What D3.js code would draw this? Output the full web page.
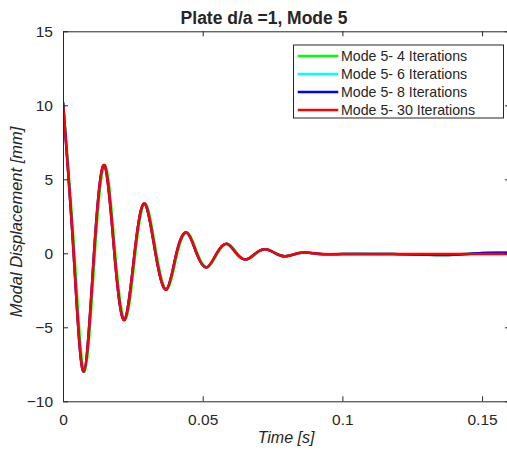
<!DOCTYPE html>
<html>
<head>
<meta charset="utf-8">
<script src="https://cdn.jsdelivr.net/npm/d3@7"></script>
<style>
  body { margin: 0; background: #fff; }
  text { font-family: "Liberation Sans", Arial, sans-serif; fill: #262626; }
</style>
</head>
<body>
<script>
// time samples (s) at peaks / zero crossings
var time = [0, 0.0038, 0.0074, 0.0111, 0.0148, 0.0184, 0.0220, 0.0256, 0.0292, 0.0331,
            0.0370, 0.0406, 0.0443, 0.0478, 0.0514, 0.0550, 0.0586, 0.0620, 0.0655, 0.0690,
            0.0724, 0.0760, 0.0795, 0.0840, 0.0880, 0.0930, 0.1000, 0.1100, 0.1200, 0.1300,
            0.1400, 0.1500, 0.1600];
var timeGreen = [0, 0.0041, 0.0077, 0.0114, 0.0151, 0.0187, 0.0223, 0.0259, 0.0295, 0.0334,
            0.0373, 0.0409, 0.0446, 0.0481, 0.0517, 0.0553, 0.0589, 0.0623, 0.0658, 0.0693,
            0.0727, 0.0763, 0.0798, 0.0843, 0.0883, 0.0933, 0.1003, 0.1103, 0.1203, 0.1303,
            0.1403, 0.1503, 0.1600];

var mode4 = [10.2, 0, -8.0, 0, 5.95, 0, -4.5, 0, 3.35, 0,
             -2.45, 0, 1.4, 0, -0.95, 0, 0.65, 0, -0.42, 0,
             0.27, 0, -0.2, 0, 0.04, -0.06, -0.05, -0.04, -0.06, -0.1,
             -0.1, 0.02, 0.03];
var mode6 = [10.2, 0, -8.0, 0, 5.95, 0, -4.5, 0, 3.35, 0,
             -2.45, 0, 1.4, 0, -0.95, 0, 0.65, 0, -0.42, 0,
             0.27, 0, -0.2, 0, 0.04, -0.06, -0.05, -0.04, -0.06, -0.09,
             -0.1, 0.02, 0.03];
var mode8 = [10.2, 0, -8.0, 0, 5.95, 0, -4.5, 0, 3.35, 0,
             -2.45, 0, 1.4, 0, -0.95, 0, 0.65, 0, -0.42, 0,
             0.27, 0, -0.2, 0, 0.04, -0.06, -0.05, -0.04, -0.06, -0.1,
             -0.1, 0.02, 0.03];
var mode30 = [10.2, 0, -8.0, 0, 5.95, 0, -4.5, 0, 3.35, 0,
              -2.45, 0, 1.4, 0, -0.95, 0, 0.65, 0, -0.42, 0,
              0.27, 0, -0.2, 0, 0.04, -0.05, -0.05, -0.05, -0.05, -0.05,
              -0.05, -0.05, -0.05];

var seriesNames = ['Mode 5- 4 Iterations', 'Mode 5- 6 Iterations', 'Mode 5- 8 Iterations', 'Mode 5- 30 Iterations'];
var seriesColors = ['#00ff00', '#00ffff', '#0000ff', '#ff0000'];
var seriesTimes = [timeGreen, time, time, time];
var seriesValues = [mode4, mode6, mode8, mode30];

var xTicks = [0, 0.05, 0.1, 0.15];
var yTicks = [-10, -5, 0, 5, 10, 15];

var width = 507, height = 450;
var plotL = 63, plotR = 510, plotT = 31.3, plotB = 401.3;

var svg = d3.select('body').append('svg').attr('width', width).attr('height', height);

var x = d3.scaleLinear().domain([0, 0.16]).range([plotL, plotR]);
var y = d3.scaleLinear().domain([-10, 15]).range([plotB, plotT]);

var line = d3.line()
  .x(function (d) { return x(d[0]); })
  .y(function (d) { return y(d[1]); })
  .curve(d3.curveNatural);

var plot = svg.append('g');
plot.append('clipPath').attr('id', 'clip').append('rect')
  .attr('x', plotL).attr('y', plotT).attr('width', plotR - plotL).attr('height', plotB - plotT);

seriesValues.forEach(function (vals, i) {
  var pts = vals.map(function (v, j) { return [seriesTimes[i][j], v]; });
  plot.append('path')
    .datum(pts)
    .attr('clip-path', 'url(#clip)')
    .attr('fill', 'none')
    .attr('stroke', seriesColors[i])
    .attr('stroke-width', 2.5)
    .attr('stroke-linejoin', 'round')
    .attr('d', line);
});

function styleAxis(g) {
  g.selectAll('path').attr('stroke', '#262626').attr('stroke-width', 1);
  g.selectAll('line').attr('stroke', '#262626');
  g.selectAll('text').style('font-size', '15.5px').attr('fill', '#262626');
}

svg.append('g').attr('transform', 'translate(0,' + plotB + ')')
  .call(d3.axisBottom(x).tickValues(xTicks).tickFormat(d3.format('')).tickSizeInner(-5).tickSizeOuter(0).tickPadding(12.5))
  .call(styleAxis);
svg.append('g').attr('transform', 'translate(0,' + plotT + ')')
  .call(d3.axisTop(x).tickValues(xTicks).tickFormat('').tickSizeInner(-5).tickSizeOuter(0))
  .call(styleAxis);
svg.append('g').attr('transform', 'translate(' + plotL + ',0)')
  .call(d3.axisLeft(y).tickValues(yTicks).tickSizeInner(-5).tickSizeOuter(0).tickPadding(10))
  .call(styleAxis);
svg.append('g').attr('transform', 'translate(' + plotR + ',0)')
  .call(d3.axisRight(y).tickValues(yTicks).tickFormat('').tickSizeInner(-5).tickSizeOuter(0))
  .call(styleAxis);

// title and axis labels
svg.append('text').attr('x', 264).attr('y', 24).attr('text-anchor', 'middle')
  .style('font-size', '17.5px').style('font-weight', 'bold').attr('fill', '#000')
  .text('Plate d/a =1, Mode 5');
svg.append('text').attr('x', 286).attr('y', 443).attr('text-anchor', 'middle')
  .style('font-size', '16px').style('font-style', 'italic')
  .text('Time [s]');
svg.append('text').attr('transform', 'translate(22,222) rotate(-90)').attr('text-anchor', 'middle')
  .style('font-size', '16.5px').style('font-style', 'italic')
  .text('Modal Displacement [mm]');

// legend
var legend = svg.append('g');
legend.append('rect').attr('x', 293.5).attr('y', 45).attr('width', 210).attr('height', 73)
  .attr('fill', '#fff').attr('stroke', '#262626').attr('stroke-width', 1);
seriesNames.forEach(function (name, i) {
  var ly = 56 + i * 18;
  legend.append('line').attr('x1', 297.7).attr('x2', 338.3).attr('y1', ly).attr('y2', ly)
    .attr('stroke', seriesColors[i]).attr('stroke-width', 2.5);
  legend.append('text').attr('x', 341).attr('y', ly).attr('dy', '0.35em')
    .style('font-size', '14.2px').attr('fill', '#000').text(name);
});
</script>
</body>
</html>
